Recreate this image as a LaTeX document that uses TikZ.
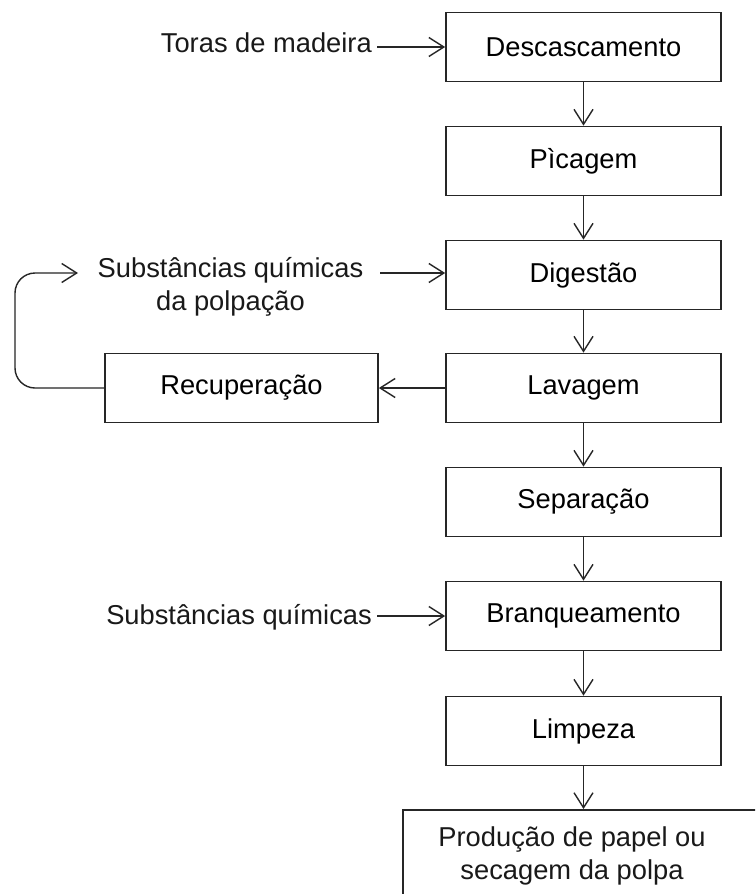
\documentclass[tikz,border=0pt]{standalone}
\usepackage{fontspec}
\setmainfont{Liberation Sans}
\usetikzlibrary{arrows.meta}
\begin{document}
\begin{tikzpicture}[x=1pt,y=-1pt,
  font=\fontsize{27.3}{33}\selectfont,
  stepbox/.style={draw=black!85, line width=1.7pt, minimum width=275pt, minimum height=69pt, inner sep=0pt},
  lbl/.style={inner sep=0pt, text=black!90},
  arr/.style={draw=black!85, line width=1.4pt, -{Straight Barb[length=15pt,width=19pt]}}]
\fill[white] (0,0) rectangle (755,894);
\useasboundingbox (0,0) rectangle (755,894);
\clip (0,0) rectangle (755,894);
% main column
\node[stepbox] (desc) at (583.5,47) {Descascamento};
\node[stepbox] (pic)  at (583.5,161) {Pìcagem};
\node[stepbox] (dig)  at (583.5,275) {Digestão};
\node[stepbox] (lav)  at (583.5,388) {Lavagem};
\node[stepbox] (sep)  at (583.5,502) {Separação};
\node[stepbox] (bran) at (583.5,616) {Branqueamento};
\node[stepbox] (limp) at (583.5,731) {Limpeza};
\node[stepbox, anchor=north west, minimum width=370pt, minimum height=100pt] (prod) at (402,809) {};
\node[lbl, align=center] (prodtxt) at (572,856) {Produção de papel ou\\secagem da polpa};
% side
\node[stepbox, minimum width=273pt] (rec) at (241.5,388) {Recuperação};
\node[lbl, anchor=base east] (toras) at (372,52) {Toras de madeira};
\node[lbl, align=center] (chem1) at (230.5,287) {Substâncias químicas\\da polpação};
\node[lbl, anchor=base east] (chem2) at (372,624) {Substâncias químicas};
\coordinate (loopend) at (78,273);
\coordinate (loopstart) at (380,273);
% connectors
\draw[arr] ([xshift=5pt]toras.east |- desc.west) -- (desc.west);
\draw[arr] (loopstart) -- (loopstart -| dig.west);
\draw[arr] ([xshift=5pt]chem2.east |- bran.west) -- (bran.west);
\draw[arr] (desc) -- (pic);
\draw[arr] (pic) -- (dig);
\draw[arr] (dig) -- (lav);
\draw[arr] (lav) -- (sep);
\draw[arr] (sep) -- (bran);
\draw[arr] (bran) -- (limp);
\draw[arr] (limp.south) -- (limp.south |- prod.north);
\draw[arr] (lav.west) -- (rec.east);
\draw[arr, rounded corners=20pt] (rec.west) -- (15,388) -- (15,273) -- (loopend);
\end{tikzpicture}
\end{document}
